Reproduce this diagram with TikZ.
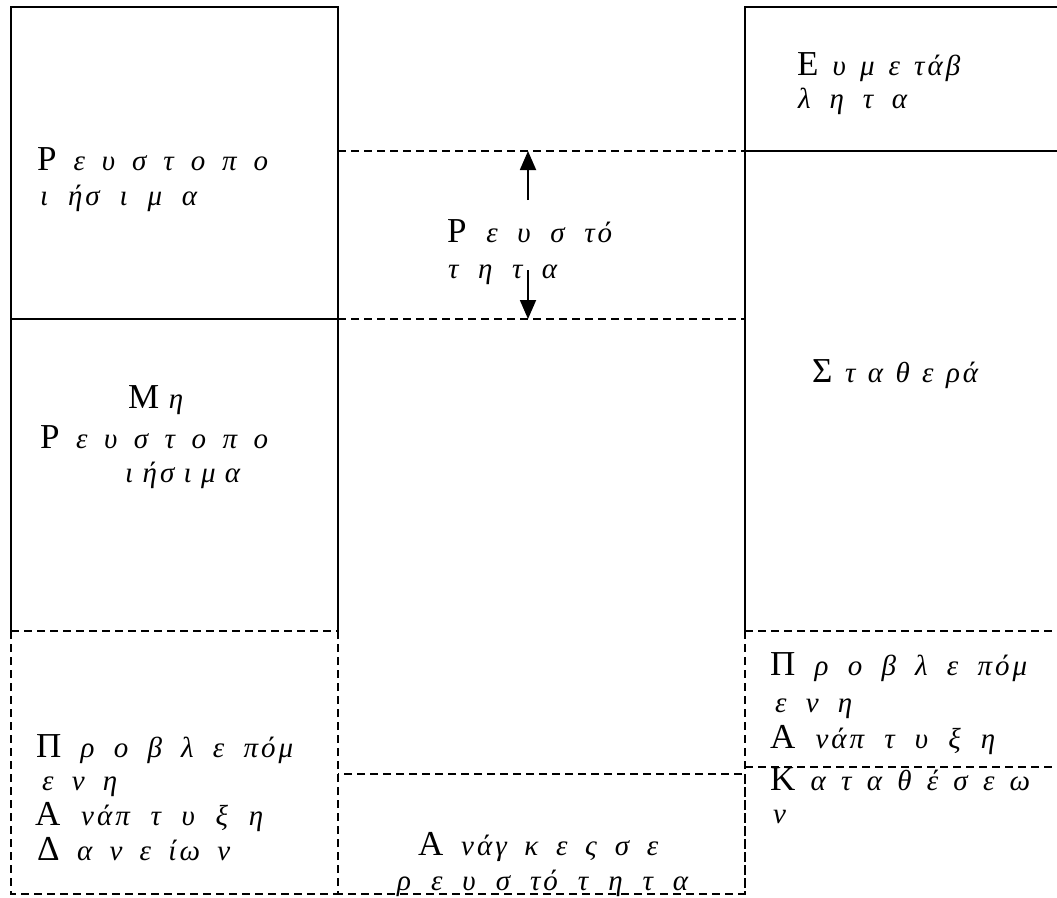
\documentclass[tikz,border=0pt]{standalone}
\usepackage{fontspec}
\setmainfont{Liberation Serif}
\usetikzlibrary{arrows.meta}
\newcommand\Cap[1]{{\fontsize{35}{35}\selectfont\upshape #1}}
\newcommand\gline[2]{\hbox to #1pt{\spaceskip=2pt plus 1fill\relax #2}}
\newcommand\tsp{\hspace{3pt}}
\begin{document}
\begin{tikzpicture}[x=1pt,y=-1pt,
  bline/.style={line width=1.8pt},
  dline/.style={line width=1.7pt, dash pattern=on 8pt off 5pt},
  txt/.style={anchor=base west, inner sep=0pt, font=\fontsize{29}{35}\selectfont\itshape},
  arr/.style={line width=1.8pt, -{Triangle[length=19pt,width=16pt]}}]
\useasboundingbox (0,0) rectangle (1057,897);
% left column
\draw[bline] (11,631) -- (11,7) -- (338,7) -- (338,631);
\draw[bline] (11,319) -- (338,319);
\draw[dline] (11,631) -- (338,631);
\draw[dline] (11,631) -- (11,894) -- (338,894) -- (338,631);
% middle
\draw[dline] (338,151) -- (745,151);
\draw[dline] (338,319) -- (745,319);
\draw[dline] (338,774) rectangle (745,894);
% right column
\draw[bline] (745,631) -- (745,7) -- (1057,7);
\draw[bline] (745,151) -- (1057,151);
\draw[dline] (745,631) -- (1057,631);
\draw[dline] (745,767) -- (1057,767);
\draw[dline] (745,631) -- (745,894);
% arrows
\coordinate (ua) at (528,200);
\coordinate (ub) at (528,151);
\coordinate (da) at (528,270);
\coordinate (db) at (528,319);
\draw[arr] (ua) -- (ub);
\draw[arr] (da) -- (db);
% texts
\node[txt] (lt1) at (37,170) {\gline{231}{\Cap{Ρ} ε υ σ τ ο π ο}};
\node[txt] (lt2) at (40,205) {\gline{157}{ι ή\tsp σ ι μ α}};
\node[txt] (mt1) at (447,242) {\gline{165}{\Cap{Ρ} ε υ σ τ\tsp ό}};
\node[txt] (mt2) at (448,278) {\gline{109}{τ η τ α}};
\node[txt] (lm1) at (128,408) {\gline{55}{\Cap{Μ} η}};
\node[txt] (lm2) at (40,448) {\gline{228}{\Cap{Ρ} ε υ σ τ ο π ο}};
\node[txt] (lm3) at (125,482) {\gline{115}{ι ή\tsp σ ι μ α}};
\node[txt] (rt1) at (797,75) {\gline{163}{\Cap{Ε} υ μ ε τ\tsp ά\tsp β}};
\node[txt] (rt2) at (798,108) {\gline{109}{λ η τ α}};
\node[txt] (rm) at (812,382) {\gline{166}{\Cap{Σ} τ α θ ε ρ\tsp ά}};
\node[txt] (lb1) at (36,757) {\gline{257}{\Cap{Π} ρ ο β λ ε π\tsp ό\tsp μ}};
\node[txt] (lb2) at (42,790) {\gline{75}{ε ν η}};
\node[txt] (lb3) at (35,825) {\gline{228}{\Cap{Α} ν\tsp ά\tsp π τ υ ξ η}};
\node[txt] (lb4) at (37,860) {\gline{193}{\Cap{Δ} α ν ε ί\tsp ω ν}};
\node[txt] (mb1) at (418,855) {\gline{240}{\Cap{Α} ν\tsp ά\tsp γ κ ε ς σ ε}};
\node[txt] (mb2) at (397,890) {\gline{291}{ρ ε υ σ τ\tsp ό τ η τ α}};
\node[txt] (rb1) at (770,675) {\gline{257}{\Cap{Π} ρ ο β λ ε π\tsp ό\tsp μ}};
\node[txt] (rb2) at (775,712) {\gline{77}{ε ν η}};
\node[txt] (rb3) at (770,748) {\gline{225}{\Cap{Α} ν\tsp ά\tsp π τ υ ξ η}};
\node[txt] (rb4) at (770,790) {\gline{260}{\Cap{Κ} α τ α θ έ σ ε ω}};
\node[txt] (rb5) at (773,823) {ν};
\end{tikzpicture}
\end{document}
